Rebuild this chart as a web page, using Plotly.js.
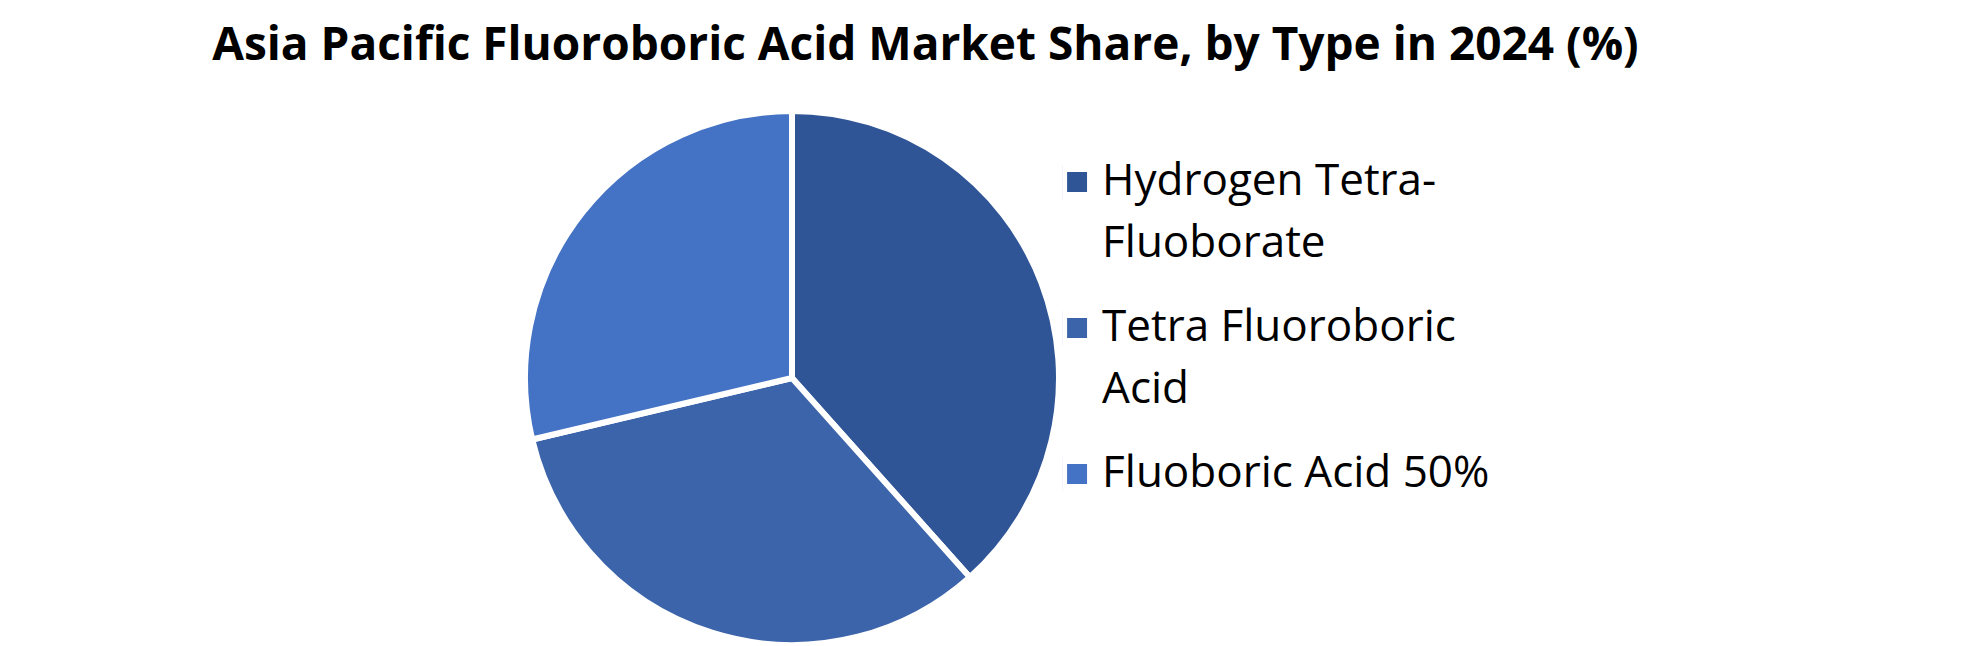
<!DOCTYPE html>
<html>
<head>
<meta charset="utf-8">
<script src="https://cdn.plot.ly/plotly-3.0.1.min.js"></script>
<style>
  html, body { margin: 0; padding: 0; background: #fff; }
  #myDiv { width: 1980px; height: 646px; }
  /* bigger legend squares, sitting on the first text line */
  .legendpie { transform: translate(15px, 8.5px) scale(2.85); }
</style>
</head>
<body>
<div id="myDiv"></div>
<script>
// shares, %
var types = ['Hydrogen Tetra-<br>Fluoborate', 'Tetra Fluoroboric<br>Acid', 'Fluoboric Acid 50%'];
var shares = [38.4, 32.9, 28.7];
var colors = ['#2F5597', '#3C64AA', '#4472C4'];

// legend line height comes from legend.font.size; glyphs are drawn smaller,
// and the second line of a label is lifted a bit so items keep a gap
var legendLabels = types.map(function (t) {
  return t.split('<br>').map(function (s, i) {
    var st = 'font-size:44px' + (i > 0 ? ';baseline-shift:10.5px' : '');
    return '<span style="' + st + '">' + s + '</span>';
  }).join('<br>');
});

var trace1 = {
  type: 'pie',
  labels: legendLabels,
  values: shares,
  sort: false,
  direction: 'clockwise',
  rotation: 0,
  textinfo: 'none',
  hoverinfo: 'label+percent',
  marker: {
    colors: colors,
    line: { color: '#ffffff', width: 6 }
  },
  // a little bigger than the visible disc, the white outline eats the rim
  domain: { x: [0.26515, 0.53485], y: [0.00155, 0.82817] }
};

var layout = {
  width: 1980,
  height: 646,
  margin: { l: 0, r: 0, t: 0, b: 0 },
  paper_bgcolor: '#ffffff',
  title: {
    text: '<b>Asia Pacific Fluoroboric Acid Market Share, by Type in 2024 (%)</b>',
    font: { family: 'Open Sans', size: 46, color: '#000000' },
    xref: 'container',
    yref: 'container',
    x: 0.4674,
    xanchor: 'center',
    y: 0.932,
    yanchor: 'middle'
  },
  showlegend: true,
  legend: {
    x: 0.5364,
    xanchor: 'left',
    y: 0.7967,
    yanchor: 'top',
    valign: 'top',
    bgcolor: 'rgba(0,0,0,0)',
    font: { family: 'Open Sans', size: 55, color: '#000000' }
  }
};

Plotly.newPlot('myDiv', [trace1], layout, { displayModeBar: false });
</script>
</body>
</html>
